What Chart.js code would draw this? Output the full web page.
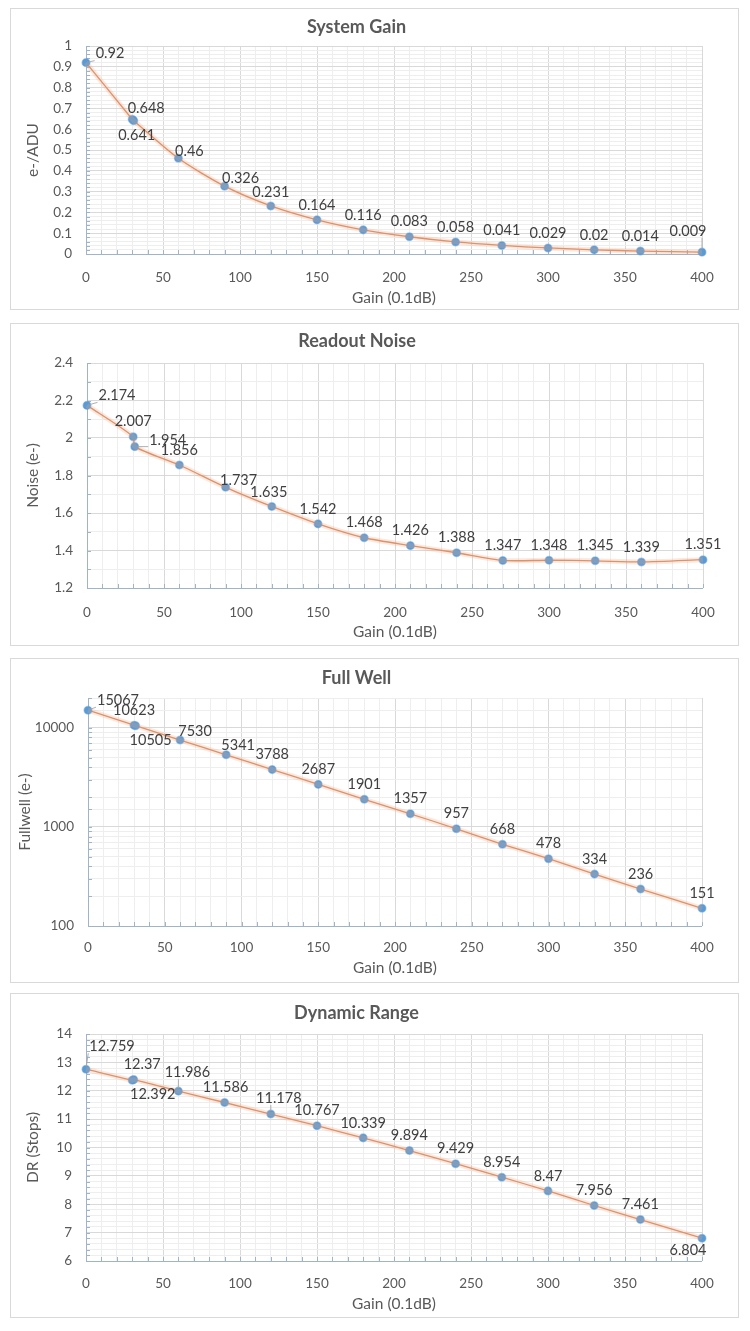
<!DOCTYPE html>
<html>
<head>
<meta charset="utf-8">
<script src="https://cdn.jsdelivr.net/npm/chart.js@4.4.1/dist/chart.umd.min.js"></script>
<style>
  html, body { margin:0; padding:0; background:#ffffff; }
  body { width:750px; height:1331px; position:relative; overflow:hidden; }
  .box { position:absolute; left:10px; width:729px; box-sizing:border-box; border:1px solid #d9d9d9; background:#fff; }
  .box canvas { display:block; }
</style>
</head>
<body>
<div class="box" id="b1"><canvas id="c1"></canvas></div>
<div class="box" id="b2"><canvas id="c2"></canvas></div>
<div class="box" id="b3"><canvas id="c3"></canvas></div>
<div class="box" id="b4"><canvas id="c4"></canvas></div>
<script>
// ---------------- DATA ----------------
const gain = [0, 30, 31, 60, 90, 120, 150, 180, 210, 240, 270, 300, 330, 360, 400];
const systemGain = [0.92, 0.648, 0.641, 0.46, 0.326, 0.231, 0.164, 0.116, 0.083, 0.058, 0.041, 0.029, 0.02, 0.014, 0.009];
const readoutNoise = [2.174, 2.007, 1.954, 1.856, 1.737, 1.635, 1.542, 1.468, 1.426, 1.388, 1.347, 1.348, 1.345, 1.339, 1.351];
const fullWell = [15067, 10623, 10505, 7530, 5341, 3788, 2687, 1901, 1357, 957, 668, 478, 334, 236, 151];
const dynamicRange = [12.759, 12.37, 12.392, 11.986, 11.586, 11.178, 10.767, 10.339, 9.894, 9.429, 8.954, 8.47, 7.956, 7.461, 6.804];
const xTickLabels = [0, 50, 100, 150, 200, 250, 300, 350, 400];
const fullWellTickLabels = [100, 1000, 10000];

// ---------------- LABEL PLACEMENT (pixel offsets of value labels) ----------------
const off1 = {0:[24,-9,1], 1:[14,-11], 2:[3,15], 3:[11,-7], 4:[16,-8], 5:[0,-14], 14:[-14,-21,1]};
const off2 = {0:[30,-10,1], 2:[33,-6,1], 4:[13,-7], 5:[-3,-14]};
const off3 = {0:[30,-10,1], 2:[15,15], 3:[15,-9], 4:[12,-9]};
const off4 = {0:[26,-23,1], 1:[10,-16], 2:[19,15], 3:[9,-19,1], 4:[1,-15], 5:[8,-16,1], 14:[-14,12]};

const FONT = "Lato, 'Open Sans', 'DejaVu Sans', sans-serif";
const TXT = '#595959';
const AXIS = '#9fb4c9';
const TITLE_SIZE = 18;
const AXIS_TITLE_SIZE = 15.5;
const TICK_SIZE = 13.5;
const LABEL_SIZE = 14.5;

const decorPlugin = {
  id: 'decor',
  beforeDatasetsDraw(chart) {
    const ctx = chart.ctx, ca = chart.chartArea;
    const xs = chart.scales.x, ys = chart.scales.y;
    ctx.save();
    ctx.strokeStyle = AXIS; ctx.lineWidth = 1;
    ctx.beginPath();
    ctx.moveTo(ca.left + 0.5, ca.top); ctx.lineTo(ca.left + 0.5, ca.bottom + 0.5);
    ctx.lineTo(ca.right, ca.bottom + 0.5);
    ctx.stroke();
    ctx.beginPath();
    xs.ticks.forEach(t => {
      const px = Math.round(xs.getPixelForValue(t.value)) + 0.5;
      ctx.moveTo(px, ca.bottom); ctx.lineTo(px, ca.bottom - 4);
    });
    ys.ticks.forEach(t => {
      const py = Math.round(ys.getPixelForValue(t.value)) + 0.5;
      ctx.moveTo(ca.left, py); ctx.lineTo(ca.left + 4, py);
    });
    ctx.stroke();
    ctx.restore();
  },
  afterDatasetsDraw(chart, args, opts) {
    const ctx = chart.ctx;
    const meta = chart.getDatasetMeta(1);
    const vals = chart.data.datasets[1].data;
    const offs = opts.offsets || {};
    const def = [0, -15];
    ctx.save();
    ctx.font = LABEL_SIZE + "px " + FONT;
    ctx.fillStyle = '#404040';
    ctx.textAlign = 'center';
    ctx.textBaseline = 'middle';
    meta.data.forEach((el, i) => {
      const o = offs[i] || def;
      const txt = String(vals[i].y);
      const cx = el.x + o[0], cy = el.y + o[1];
      if (o[2]) {
        const w = ctx.measureText(txt).width;
        const l = cx - w / 2 - 1, r = cx + w / 2 + 1, t = cy - 8, b = cy + 7;
        const tx = Math.min(Math.max(el.x, l), r);
        const ty = Math.min(Math.max(el.y, t), b);
        ctx.strokeStyle = '#a6a6a6'; ctx.lineWidth = 0.9;
        ctx.beginPath();
        const dx = tx - el.x, dy = ty - el.y, d = Math.hypot(dx, dy) || 1;
        ctx.moveTo(el.x + dx / d * 3, el.y + dy / d * 3);
        ctx.lineTo(tx, ty);
        ctx.stroke();
      }
      ctx.fillText(txt, cx, cy);
    });
    ctx.restore();
  }
};

function buildChart(id, boxId, p) {
  const box = document.getElementById(boxId);
  box.style.top = p.boxTop + 'px';
  box.style.height = (p.boxBottom - p.boxTop) + 'px';
  const cw = 727, ch = p.boxBottom - p.boxTop - 2;
  const canvasTop = p.boxTop + 1, canvasLeft = 11;
  const cv = document.getElementById(id);
  cv.width = cw; cv.height = ch;
  cv.style.width = cw + 'px'; cv.style.height = ch + 'px';

  const areaTop = p.areaTop - canvasTop, areaBottom = p.areaBottom - canvasTop;
  const areaLeft = p.areaLeft - canvasLeft, areaRight = p.areaRight - canvasLeft;
  const titleC = p.titleY - canvasTop;
  const tLH = TITLE_SIZE * 1.2;
  const xTitleC = p.xTitleY - canvasTop;
  const aLH = AXIS_TITLE_SIZE * 1.2;
  const pts = gain.map((g, i) => ({ x: g, y: p.values[i] }));

  const yTicks = {
    autoSkip: false,
    padding: 14,
    color: TXT,
    font: { family: FONT, size: TICK_SIZE },
    callback: v => p.isMajorY(v) ? p.fmtY(v) : ''
  };
  if (p.yStep) yTicks.stepSize = p.yStep;

  const yScale = {
    type: p.yType, min: p.yMin, max: p.yMax,
    position: 'left',
    border: { display: false },
    grid: {
      drawTicks: false,
      color: c => p.isMajorY(c.tick.value) ? '#d9d9d9' : '#eeeeee'
    },
    ticks: yTicks,
    title: {
      display: true, text: p.yTitle, color: TXT,
      font: { family: FONT, size: AXIS_TITLE_SIZE },
      padding: { top: p.yTitlePad, bottom: 0 }
    },
    afterFit: s => { s.width = areaLeft; }
  };

  return new Chart(cv, {
    type: 'line',
    data: {
      datasets: [
        { data: pts, borderColor: 'rgba(240,165,125,0.25)', borderWidth: 5, pointRadius: 0,
          tension: 0.25, fill: false, clip: false },
        { data: pts, borderColor: '#d98c63', borderWidth: 1.3, pointRadius: 3.8,
          pointBackgroundColor: '#5b9bd5', pointBorderColor: 'rgba(91,155,213,0.5)', pointBorderWidth: 1.5,
          tension: 0.25, fill: false, clip: false }
      ]
    },
    options: {
      responsive: false, animation: false, devicePixelRatio: 1,
      layout: { padding: { left: 0, right: cw - areaRight, top: 0, bottom: 0 } },
      plugins: {
        legend: { display: false },
        tooltip: { enabled: false },
        title: {
          display: true, text: p.title, color: TXT,
          font: { family: FONT, size: TITLE_SIZE, weight: 'bold' },
          padding: { top: titleC - tLH / 2, bottom: areaTop - titleC - tLH / 2 }
        },
        decor: { offsets: p.offsets }
      },
      scales: {
        x: {
          type: 'linear', min: 0, max: 400,
          border: { display: false },
          grid: {
            drawTicks: false,
            color: c => (c.tick.value % 50 === 0) ? '#d9d9d9' : '#eeeeee'
          },
          ticks: {
            stepSize: 10, autoSkip: false, maxRotation: 0, padding: p.xTickPad,
            color: TXT, font: { family: FONT, size: TICK_SIZE },
            callback: v => xTickLabels.includes(v) ? String(v) : ''
          },
          title: {
            display: true, text: 'Gain (0.1dB)', color: TXT,
            font: { family: FONT, size: AXIS_TITLE_SIZE },
            padding: { top: 0, bottom: ch - xTitleC - aLH / 2 }
          },
          afterFit: s => { s.height = ch - areaBottom; }
        },
        y: yScale
      }
    },
    plugins: [decorPlugin]
  });
}

const near = (a, b) => Math.abs(a - b) < 1e-6;
const isMult = (v, step) => near(Math.round(v / step) * step, v);
const fmt = v => String(Math.round(v * 1000) / 1000);

buildChart('c1', 'b1', {
  boxTop: 8, boxBottom: 310, areaTop: 46, areaBottom: 254, areaLeft: 86, areaRight: 702,
  titleY: 27, xTitleY: 298, xTickPad: 16, yTitlePad: 13,
  title: 'System Gain', yTitle: 'e-/ADU', values: systemGain, offsets: off1,
  yType: 'linear', yMin: 0, yMax: 1, yStep: 0.02,
  isMajorY: v => isMult(v, 0.1), fmtY: fmt
});

buildChart('c2', 'b2', {
  boxTop: 323, boxBottom: 646, areaTop: 363, areaBottom: 588, areaLeft: 87, areaRight: 703,
  titleY: 341, xTitleY: 632, xTickPad: 17, yTitlePad: 13,
  title: 'Readout Noise', yTitle: 'Noise (e-)', values: readoutNoise, offsets: off2,
  yType: 'linear', yMin: 1.2, yMax: 2.4, yStep: 0.1,
  isMajorY: v => isMult(v, 0.2), fmtY: fmt
});

buildChart('c3', 'b3', {
  boxTop: 658, boxBottom: 983, areaTop: 698, areaBottom: 926, areaLeft: 88, areaRight: 702,
  titleY: 678, xTitleY: 968, xTickPad: 14, yTitlePad: 5,
  title: 'Full Well', yTitle: 'Fullwell (e-)', values: fullWell, offsets: off3,
  yType: 'logarithmic', yMin: 100, yMax: 20000, yStep: null,
  isMajorY: v => fullWellTickLabels.includes(v), fmtY: v => String(v)
});

buildChart('c4', 'b4', {
  boxTop: 993, boxBottom: 1318, areaTop: 1034, areaBottom: 1261, areaLeft: 86, areaRight: 702,
  titleY: 1013, xTitleY: 1304, xTickPad: 15, yTitlePad: 13,
  title: 'Dynamic Range', yTitle: 'DR (Stops)', values: dynamicRange, offsets: off4,
  yType: 'linear', yMin: 6, yMax: 14, yStep: 0.2,
  isMajorY: v => isMult(v, 1), fmtY: fmt
});
</script>
</body>
</html>
